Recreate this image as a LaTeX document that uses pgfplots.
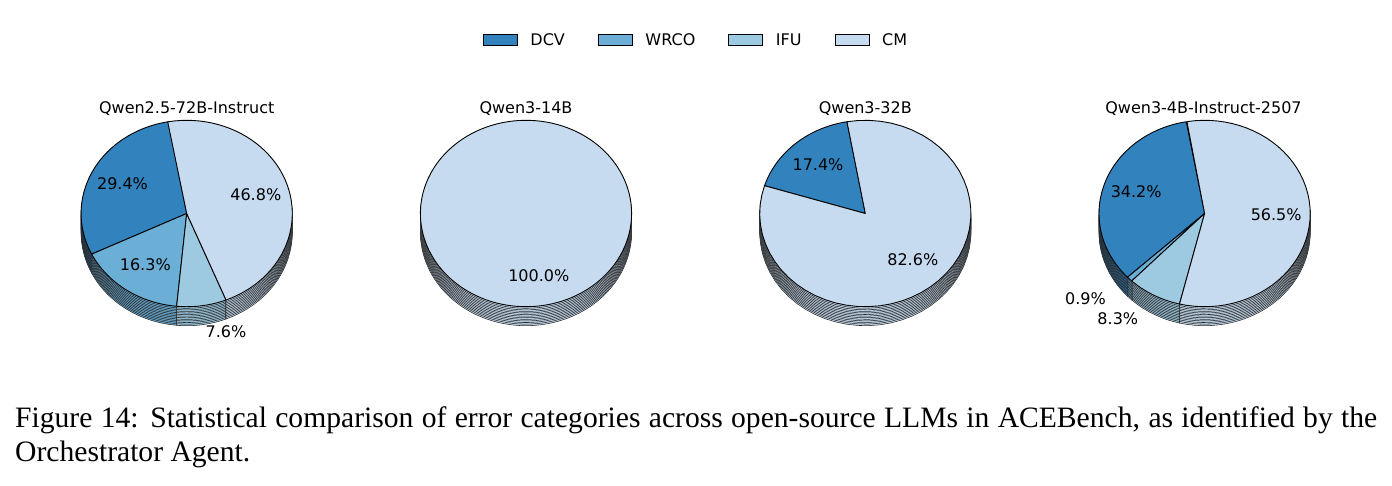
\documentclass[border=0pt]{standalone}
\usepackage{pgfplots}
\pgfplotsset{compat=1.18}
\usepackage{fontspec}
\setmainfont{DejaVu Sans}
\newfontfamily\capfont{Liberation Serif}
\definecolor{dcv}{HTML}{3182BD}
\definecolor{wrco}{HTML}{6BAED6}
\definecolor{ifu}{HTML}{9ECAE1}
\definecolor{cm}{HTML}{C6DBEF}

\def\rx{105.6}
\def\ry{93.2}

% one wedge of an elliptical pie, angles in degrees (counter-clockwise)
\newcommand\pieslice[5]{%
  \pgfmathsetmacro\spanang{#4-#3}%
  \ifdim\spanang pt>359.9pt
    \edef\tmp{\noexpand\addplot[forget plot,#5,domain=#3:#4,samples=120] ({#1+\rx*cos(x)},{#2-\ry*sin(x)}) -- cycle;}%
  \else
    \edef\tmp{\noexpand\addplot[forget plot,#5,domain=#3:#4,samples=50] ({#1+\rx*cos(x)},{#2-\ry*sin(x)}) -- (axis cs:#1,#2) -- cycle;}%
  \fi
  \tmp}

% pie from the four shares (percent): DCV, WRCO, IFU, CM
\newcommand\drawpie[6]{%
  \pgfmathsetmacro\aA{100}%
  \pgfmathsetmacro\aB{\aA+3.6*#3}%
  \pgfmathsetmacro\aC{\aB+3.6*#4}%
  \pgfmathsetmacro\aD{\aC+3.6*#5}%
  \pgfmathsetmacro\aE{\aD+3.6*#6}%
  \foreach \k in {12,11,...,0}{%
    \pgfmathsetmacro\yy{#2+1.583*\k}%
    \ifnum\k=0 \def\sty{draw=black,line width=0.9pt,line join=round}\else\def\sty{draw=black!85,line width=0.55pt}\fi
    \ifdim #3pt>0pt \pieslice{#1}{\yy}{\aA}{\aB}{fill=dcv,\sty}\fi
    \ifdim #4pt>0pt \pieslice{#1}{\yy}{\aB}{\aC}{fill=wrco,\sty}\fi
    \ifdim #5pt>0pt \pieslice{#1}{\yy}{\aC}{\aD}{fill=ifu,\sty}\fi
    \ifdim #6pt>0pt \pieslice{#1}{\yy}{\aD}{\aE}{fill=cm,\sty}\fi
  }}

\begin{document}
\begin{tikzpicture}
\begin{axis}[
  width=1392pt, height=485pt, scale only axis,
  xmin=0, xmax=1392, ymin=0, ymax=485, y dir=reverse,
  hide axis, clip=false,
  legend columns=4, legend cell align=left,
  legend image code/.code={\draw[#1,draw=black,line width=0.6pt] (0pt,-5.5pt) rectangle (34pt,5.5pt);},
  legend style={at={(0.4993,0.917)}, anchor=center, draw=none, fill=none,
    font=\fontsize{16}{19}\selectfont, inner sep=0pt,
    nodes={inner sep=0pt},
    /tikz/every odd column/.append style={column sep=13pt},
    /tikz/every even column/.append style={column sep=33pt}},
]
\addlegendimage{fill=dcv}\addlegendentry{DCV}
\addlegendimage{fill=wrco}\addlegendentry{WRCO}
\addlegendimage{fill=ifu}\addlegendentry{IFU}
\addlegendimage{fill=cm}\addlegendentry{CM}

\path (axis cs:0,0) rectangle (axis cs:1392,485);

%        cx     cy     DCV   WRCO  IFU  CM
\drawpie{186.7}{213.5}{29.4}{16.3}{7.6}{46.8}
\drawpie{526.0}{213.5}{0}{0}{0}{100.0}
\drawpie{865.3}{213.5}{17.4}{0}{0}{82.6}
\drawpie{1204.6}{213.5}{34.2}{0.9}{8.3}{56.5}

\tikzset{lab/.style={font=\fontsize{16}{19}\selectfont, inner sep=0pt, anchor=center}}
\node[lab, anchor=base] at (axis cs:186.7,113) {Qwen2.5-72B-Instruct};
\node[lab, anchor=base] at (axis cs:526.0,113) {Qwen3-14B};
\node[lab, anchor=base] at (axis cs:865.3,113) {Qwen3-32B};
\node[lab, anchor=base] at (axis cs:1203.5,113) {Qwen3-4B-Instruct-2507};

\node[lab] at (axis cs:122.5,183.7) {29.4\%};
\node[lab] at (axis cs:145.3,264.5) {16.3\%};
\node[lab] at (axis cs:226.0,332.0) {7.6\%};
\node[lab] at (axis cs:255.8,194.7) {46.8\%};
\node[lab] at (axis cs:538.8,275.5) {100.0\%};
\node[lab] at (axis cs:818.0,164.5) {17.4\%};
\node[lab] at (axis cs:912.8,259.7) {82.6\%};
\node[lab] at (axis cs:1136.2,191.3) {34.2\%};
\node[lab] at (axis cs:1085.5,299.0) {0.9\%};
\node[lab] at (axis cs:1117.8,318.3) {8.3\%};
\node[lab] at (axis cs:1276.2,214.7) {56.5\%};

\node[anchor=base west, inner sep=0pt] at (axis cs:15,427) {\parbox[t]{1362pt}{\capfont\fontsize{29.6}{34.8}\selectfont\tolerance=10000 Figure 14: Statistical comparison of error categories across open-source LLMs in ACEBench, as identified by the\linebreak Orchestrator Agent.}};
\end{axis}
\end{tikzpicture}
\end{document}
